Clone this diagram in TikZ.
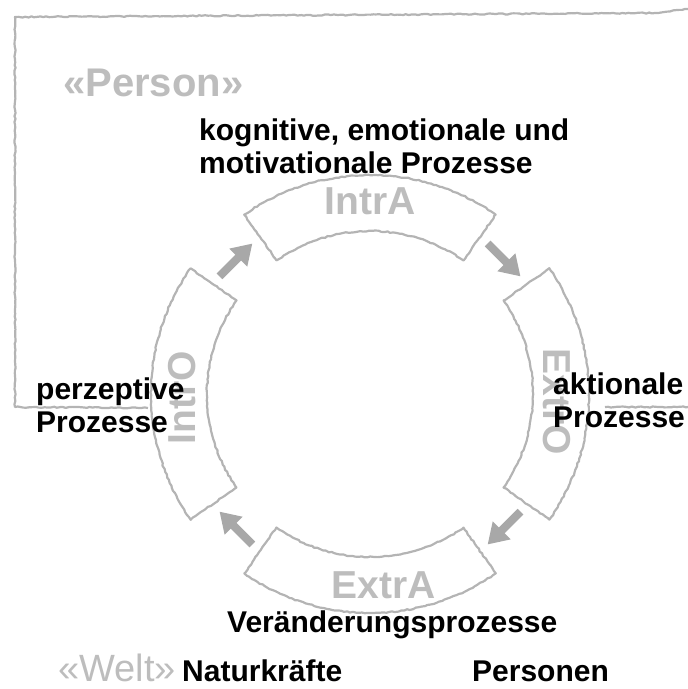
\documentclass[tikz,border=0pt]{standalone}
\usepackage{fontspec}
\setmainfont{Liberation Sans}
\usetikzlibrary{arrows.meta, decorations.pathmorphing}
\definecolor{sketchgray}{HTML}{B4B4B4}
\definecolor{labelgray}{HTML}{BDBDBD}
\definecolor{arrowgray}{HTML}{A8A8A8}

\tikzset{
  sketch/.style={draw=sketchgray, line width=2.2pt, line join=round,
    decorate, decoration={random steps, segment length=3pt, amplitude=0.6pt}},
  ringlabel/.style={text=labelgray, font=\fontsize{39}{39}\selectfont\bfseries, inner sep=0pt},
  proc/.style={font=\fontsize{30}{33}\selectfont\bfseries, align=left, inner sep=0pt},
  flow/.style={draw=arrowgray, line width=8pt, -{Triangle[length=20pt,width=24pt]}}
}

\begin{document}
\begin{tikzpicture}[x=1pt, y=1pt]
    \useasboundingbox (-370,-295) rectangle (318,394);
    % frame of the person
    \draw[sketch] (318,385) -- (285,381) -- (-355,377) -- (-355,-13) -- (-222,-14);
    \draw[sketch] (235,-13) -- (318,-13);
    % ring segments
    \foreach \a in {90,180,270,0} {
      \draw[sketch] (\a-35:219) arc[start angle=\a-35, end angle=\a+35, radius=219]
        -- (\a+35:163) arc[start angle=\a+35, end angle=\a-35, radius=163] -- cycle;
    }
    % arrows between the segments
    \foreach \a [count=\i] in {135,45,-45,-135} {
      \coordinate (tail\i) at (\a+7:191);
      \coordinate (head\i) at (\a-7:191);
      \draw[flow] (tail\i) -- (head\i);
    }
    \node[ringlabel] (intra) at (0,193) {IntrA};
    \node[ringlabel] (extra) at (14,-191) {ExtrA};
    \node[ringlabel, rotate=90] (intro) at (-188,-4) {IntrO};
    \node[ringlabel, rotate=-90] (extro) at (187,-8) {ExtrO};
    \node[anchor=base west, inner sep=0pt, text=labelgray,
          font=\fontsize{40}{40}\selectfont\bfseries] (person) at (-307,297) {«Person»};
    \node[anchor=base west, inner sep=0pt, text=labelgray,
          font=\fontsize{38}{38}\selectfont] (welt) at (-312,-287) {«Welt»};
    % processes
    \node[proc, anchor=south west] (cog) at (-171,220) {kognitive, emotionale und\\motivationale Prozesse};
    \node[proc, anchor=south west] (perz) at (-334,-39) {perzeptive\\Prozesse};
    \node[proc, anchor=south west] (akt) at (183,-34) {aktionale\\Prozesse};
    \node[proc, anchor=base west] (change) at (-143,-238) {Veränderungsprozesse};
    \node[proc, anchor=base west] (nature) at (-188,-287) {Naturkräfte};
    \node[proc, anchor=base west] (people) at (102,-287) {Personen};
\end{tikzpicture}
\end{document}
